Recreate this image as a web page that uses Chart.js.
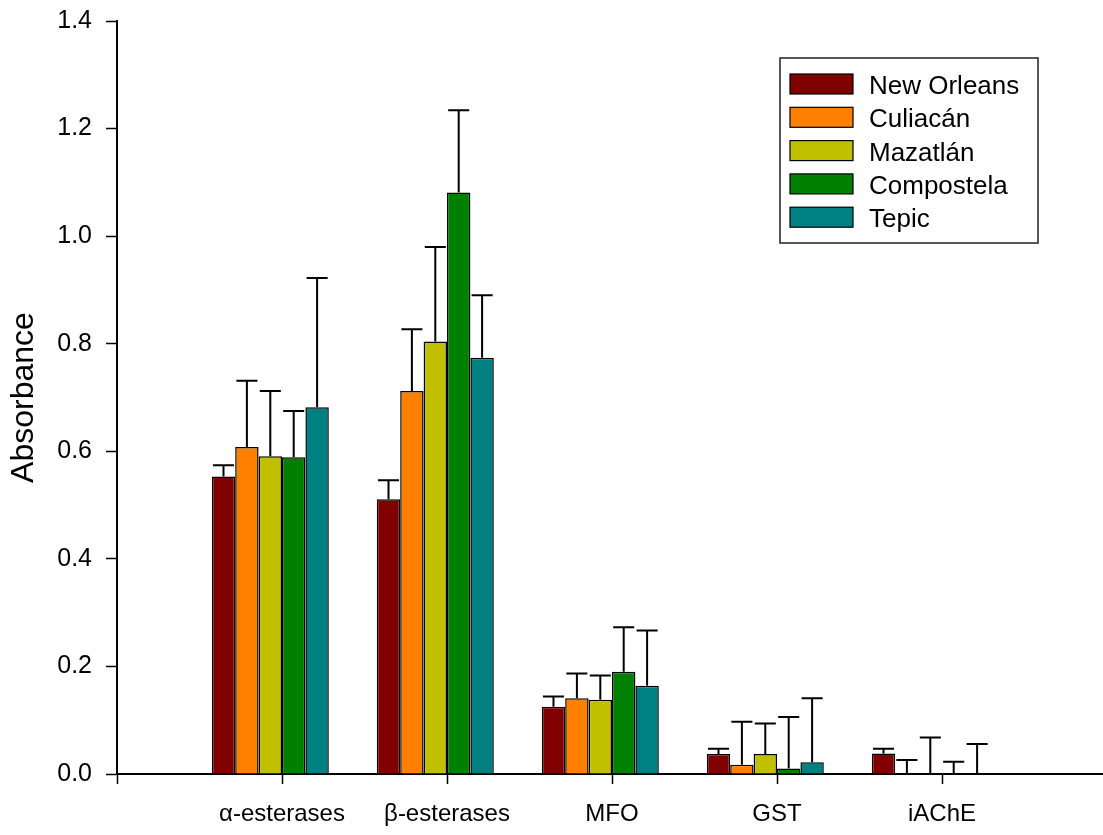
<!DOCTYPE html>
<html><head><meta charset="utf-8">
<script src="https://cdn.jsdelivr.net/npm/chart.js@4.4.0/dist/chart.umd.min.js"></script>
<style>html,body{margin:0;padding:0;overflow:hidden;background:#fff;} canvas{display:block;}</style>
</head><body>
<canvas id="c" width="1107" height="835"></canvas>
<script>
// ---- data ----
const categories = ['α-esterases', 'β-esterases', 'MFO', 'GST', 'iAChE'];
const seriesNames = ['New Orleans', 'Culiacán', 'Mazatlán', 'Compostela', 'Tepic'];
const newOrleans    = [0.553, 0.511, 0.125, 0.037, 0.038];
const newOrleansErr = [0.021, 0.035, 0.019, 0.010, 0.009];
const culiacan      = [0.608, 0.712, 0.141, 0.017, 0.000];
const culiacanErr   = [0.123, 0.115, 0.046, 0.080, 0.026];
const mazatlan      = [0.591, 0.804, 0.138, 0.037, 0.000];
const mazatlanErr   = [0.121, 0.176, 0.045, 0.057, 0.068];
const compostela    = [0.589, 1.081, 0.190, 0.010, 0.000];
const compostelaErr = [0.086, 0.153, 0.083, 0.096, 0.023];
const tepic         = [0.682, 0.774, 0.164, 0.022, 0.000];
const tepicErr      = [0.240, 0.116, 0.103, 0.119, 0.056];
const yTickValues = [0, 0.2, 0.4, 0.6, 0.8, 1.0, 1.2, 1.4];

const seriesValues = [newOrleans, culiacan, mazatlan, compostela, tepic];
const seriesErrors = [newOrleansErr, culiacanErr, mazatlanErr, compostelaErr, tepicErr];
const colors = ['#800000', '#FF8000', '#C0C000', '#008000', '#008080'];

// category axis with empty end slots so ticks sit at the axis ends
const labels = ['', ...categories, ''];
const pad = arr => [null, ...arr, null];

const datasets = seriesNames.map((name, i) => ({
  label: name,
  data: pad(seriesValues[i]),
  errors: pad(seriesErrors[i]),
  backgroundColor: colors[i],
  borderColor: '#000',
  borderWidth: 1.5,
  borderSkipped: 'start'
}));
// empty slot so the group is laid out as in the original (tick between 3rd and 4th bar)
datasets.push({ label: '', data: labels.map(() => null), backgroundColor: 'rgba(0,0,0,0)', isSpacer: true });

const FONT = 'Liberation Sans, Arial, sans-serif';

const errorBarPlugin = {
  id: 'errorBars',
  afterDatasetsDraw(chart) {
    const ctx = chart.ctx, y = chart.scales.y;
    chart.data.datasets.forEach((ds, i) => {
      if (!ds.errors) return;
      const meta = chart.getDatasetMeta(i);
      meta.data.forEach((bar, j) => {
        const v = ds.data[j], e = ds.errors[j];
        if (v == null || e == null) return;
        const yTop = y.getPixelForValue(v + e);
        const yBase = y.getPixelForValue(v);
        const x = bar.x, half = bar.width * 0.45;
        ctx.save();
        ctx.strokeStyle = '#000';
        ctx.lineWidth = 2;
        ctx.beginPath();
        ctx.moveTo(x, yBase); ctx.lineTo(x, yTop);
        ctx.moveTo(x - half, yTop); ctx.lineTo(x + half, yTop);
        ctx.stroke();
        ctx.restore();
      });
    });
  }
};

const legendPlugin = {
  id: 'boxLegend',
  afterDraw(chart) {
    const ctx = chart.ctx;
    const bx = 780, by = 58, bw = 258, bh = 185;
    ctx.save();
    ctx.fillStyle = '#fff';
    ctx.fillRect(bx, by, bw, bh);
    ctx.strokeStyle = '#222';
    ctx.lineWidth = 1.5;
    ctx.strokeRect(bx, by, bw, bh);
    ctx.font = '26px ' + FONT;
    ctx.textBaseline = 'alphabetic';
    ctx.textAlign = 'left';
    chart.data.datasets.filter(d => !d.isSpacer).forEach((ds, i) => {
      const sy = 74 + i * 33.3;
      ctx.fillStyle = ds.backgroundColor;
      ctx.fillRect(790, sy, 63, 20);
      ctx.strokeStyle = '#000';
      ctx.lineWidth = 1.2;
      ctx.strokeRect(790, sy, 63, 20);
      ctx.fillStyle = '#000';
      ctx.fillText(ds.label, 869, sy + 20);
    });
    ctx.restore();
  }
};

new Chart(document.getElementById('c'), {
  type: 'bar',
  data: { labels, datasets },
  plugins: [errorBarPlugin, legendPlugin],
  options: {
    responsive: false,
    animation: false,
    layout: { padding: { top: 21, right: 0, left: 0, bottom: 0 } },
    categoryPercentage: 0.851,
    barPercentage: 1.0,
    plugins: { legend: { display: false }, tooltip: { enabled: false } },
    scales: {
      x: {
        type: 'category',
        offset: false,
        grid: { display: true, drawOnChartArea: false, offset: false, drawTicks: true, tickLength: 10, tickWidth: 1.5, color: '#000' },
        border: { display: true, color: '#000', width: 2 },
        ticks: { font: { family: FONT, size: 24 }, color: '#000', padding: 16, maxRotation: 0, autoSkip: false },
        afterFit(scale) { scale.height = 61; scale.paddingLeft = 0; scale.paddingRight = 0; }
      },
      y: {
        min: 0, max: 1.4,
        afterBuildTicks(scale) { scale.ticks = yTickValues.map(v => ({ value: v })); },
        grid: { display: true, drawOnChartArea: false, drawTicks: true, tickLength: 11, tickWidth: 1.5, color: '#000' },
        border: { display: true, color: '#000', width: 2 },
        ticks: { font: { family: FONT, size: 25 }, color: '#000', padding: 14, callback: v => Number(v).toFixed(1) },
        title: { display: true, text: 'Absorbance', font: { family: FONT, size: 32 }, color: '#000', padding: { top: 5, bottom: 0 } },
        afterFit(scale) { scale.width = 117; scale.paddingTop = 0; scale.paddingBottom = 0; }
      }
    }
  }
});
</script>
</body></html>
